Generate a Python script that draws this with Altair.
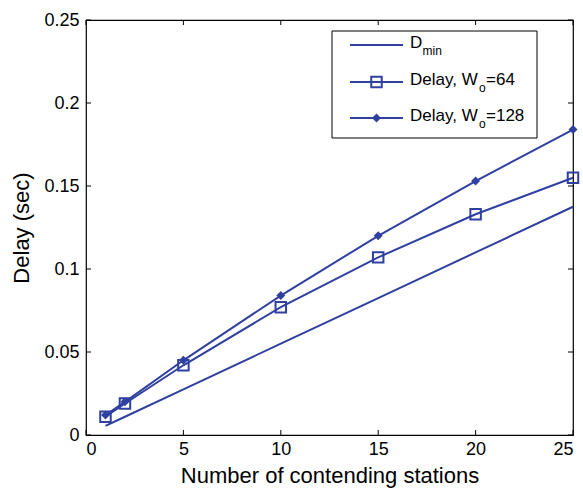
import altair as alt
import pandas as pd

stations = [1, 2, 5, 10, 15, 20, 25]
dmin = [0.0055, 0.011, 0.0275, 0.055, 0.0825, 0.11, 0.1375]
delay64 = [0.011, 0.019, 0.042, 0.077, 0.107, 0.133, 0.155]
delay128 = [0.012, 0.020, 0.045, 0.084, 0.120, 0.153, 0.184]
x_ticks = [0, 5, 10, 15, 20, 25]
y_ticks = [0, 0.05, 0.1, 0.15, 0.2, 0.25]

BLUE = "#2f40a0"
FONT = "Liberation Sans"
W, H = 487, 415

df = pd.DataFrame({"x": stations, "dmin": dmin, "d64": delay64, "d128": delay128})

xs = alt.Scale(domain=[0, 25], nice=False)
ys = alt.Scale(domain=[0, 0.25], nice=False)

xenc = alt.X("x:Q", scale=xs, axis=alt.Axis(values=x_ticks, title="Number of contending stations",
                                             labelPadding=5, titlePadding=7, grid=False, ticks=False, domain=False))
base = alt.Chart(df)

l_dmin = base.mark_line(color=BLUE, strokeWidth=2).encode(
    x=xenc,
    y=alt.Y("dmin:Q", scale=ys, axis=alt.Axis(values=y_ticks, format="~g", title="Delay (sec)",
                                              labelPadding=7, titlePadding=10, grid=False, ticks=False, domain=False)),
)
l64 = base.mark_line(color=BLUE, strokeWidth=2).encode(x="x:Q", y="d64:Q")
p64 = base.mark_point(shape="square", size=110, color=BLUE, filled=False, strokeWidth=2, opacity=1).encode(x="x:Q", y="d64:Q")
l128 = base.mark_line(color=BLUE, strokeWidth=2).encode(x="x:Q", y="d128:Q")
p128 = base.mark_point(shape="diamond", size=80, color=BLUE, filled=True, opacity=1).encode(x="x:Q", y="d128:Q")

xt = pd.DataFrame({"t": x_ticks})
yt = pd.DataFrame({"t": y_ticks})
tick_b = alt.Chart(xt).mark_rule(color="black").encode(x="t:Q", y=alt.value(H), y2=alt.value(H - 5))
tick_t = alt.Chart(xt).mark_rule(color="black").encode(x="t:Q", y=alt.value(0), y2=alt.value(5))
tick_l = alt.Chart(yt).mark_rule(color="black").encode(y="t:Q", x=alt.value(0), x2=alt.value(5))
tick_r = alt.Chart(yt).mark_rule(color="black").encode(y="t:Q", x=alt.value(W), x2=alt.value(W - 5))

one = alt.Data(values=[{"a": 1}])

def val_chart():
    return alt.Chart(one)

box = val_chart().mark_rect(fill="white", stroke="black", strokeWidth=1).encode(
    x=alt.value(246), x2=alt.value(451), y=alt.value(11), y2=alt.value(118))

layers = [box]
rows = [25, 62, 98]
for yy in rows:
    layers.append(val_chart().mark_rule(color=BLUE, strokeWidth=2).encode(
        x=alt.value(264), x2=alt.value(317), y=alt.value(yy)))
layers.append(val_chart().mark_point(shape="square", size=110, color=BLUE, filled=False, strokeWidth=2, opacity=1).encode(
    x=alt.value(290.5), y=alt.value(rows[1])))
layers.append(val_chart().mark_point(shape="diamond", size=80, color=BLUE, filled=True, opacity=1).encode(
    x=alt.value(290.5), y=alt.value(rows[2])))

def txt(s, x, y, size=17):
    return val_chart().mark_text(font=FONT, fontSize=size, align="left", baseline="middle", color="black").encode(
        x=alt.value(x), y=alt.value(y), text=alt.value(s))

tx = 324
layers += [
    txt("D", tx, rows[0] - 2), txt("min", tx + 12.5, rows[0] + 6, 12),
    txt("Delay, W", tx, rows[1] - 2), txt("o", tx + 69, rows[1] + 6, 12), txt("=64", tx + 76, rows[1] - 2),
    txt("Delay, W", tx, rows[2] - 2), txt("o", tx + 69, rows[2] + 6, 12), txt("=128", tx + 76, rows[2] - 2),
]

chart = alt.layer(l_dmin, l64, l128, p64, p128, tick_b, tick_t, tick_l, tick_r, *layers).properties(
    width=W, height=H,
    autosize=alt.AutoSizeParams(type="none"),
    padding={"left": 86, "top": 20, "right": 10, "bottom": 57},
    background="white",
).configure_view(stroke="black", strokeWidth=1.2).configure_axis(
    labelFont=FONT, titleFont=FONT, labelFontSize=18, titleFontSize=22,
    labelColor="black", titleColor="black", titleFontWeight="normal",
)

chart.save("out.html", embed_options={"renderer": "svg", "actions": False})
